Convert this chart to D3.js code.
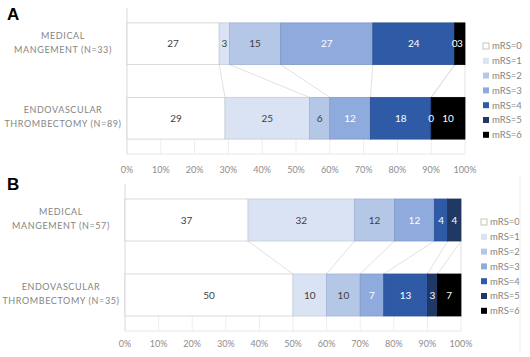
<!DOCTYPE html>
<html><head><meta charset="utf-8">
<script src="https://cdn.jsdelivr.net/npm/d3@7"></script>
<style>
body{margin:0;background:#fff;}
svg{display:block;font-family:Lato,"Open Sans",sans-serif;}
</style></head>
<body><svg id="chart" width="530" height="357"></svg>
<script>
// ---- data ----
const seriesNames = ["mRS=0","mRS=1","mRS=2","mRS=3","mRS=4","mRS=5","mRS=6"];
const seriesColors = ["#ffffff","#dae3f3","#b4c7e7","#8faadc","#2f5aa6","#203864","#000000"];
const labelColors = ["#404040","#404040","#404040","#ffffff","#ffffff","#ffffff","#ffffff"];
const categoriesA = [["MEDICAL","MANGEMENT (N=33)"],["ENDOVASCULAR","THROMBECTOMY (N=89)"]];
const categoriesB = [["MEDICAL","MANGEMENT (N=57)"],["ENDOVASCULAR","THROMBECTOMY (N=35)"]];
const valuesA_medical = [27,3,15,27,24,0,3];
const valuesA_evt = [29,25,6,12,18,0,10];
const valuesB_medical = [37,32,12,12,4,4,0];
const valuesB_evt = [50,10,10,7,13,3,7];
const tickValues = [0,0.1,0.2,0.3,0.4,0.5,0.6,0.7,0.8,0.9,1];
const tickLabels = ["0%","10%","20%","30%","40%","50%","60%","70%","80%","90%","100%"];

const svg = d3.select("#chart");

function drawPanel(opt){
  const g = svg.append("g");
  const rows = [opt.top, opt.bottom];
  const table = rows.map((vals,i)=>{
    const o = {cat:i};
    seriesNames.forEach((s,j)=>o[s]=vals[j]);
    return o;
  });
  const stack = d3.stack().keys(seriesNames).offset(d3.stackOffsetExpand)(table);
  const x = d3.scaleLinear().domain([0,1]).range(opt.xr);
  const y = d3.scaleBand().domain([0,1]).range(opt.yr).paddingInner(0.44).paddingOuter(0.2);

  // panel letter
  g.append("text").attr("x",opt.letterX).attr("y",opt.letterY)
    .attr("font-family","Liberation Sans, Arial, sans-serif")
    .attr("font-weight","bold").attr("font-size",17).attr("fill","#000").text(opt.letter);

  const bw = y.bandwidth();
  // faint grid ticks below bottom bar
  g.selectAll(".grid").data(tickValues.slice(1)).join("line")
    .attr("x1",d=>x(d)).attr("x2",d=>x(d))
    .attr("y1",y(1)+bw).attr("y2",opt.yr[1])
    .attr("stroke","#eeeeee").attr("stroke-width",1);

  // axis lines
  g.append("line").attr("x1",opt.xr[0]).attr("x2",opt.xr[0]).attr("y1",opt.yr[0]).attr("y2",opt.yr[1])
    .attr("stroke","#d9d9d9");
  g.append("line").attr("x1",opt.xr[0]).attr("x2",opt.xr[1]).attr("y1",opt.yr[1]).attr("y2",opt.yr[1])
    .attr("stroke","#e6e6e6");

  // series lines
  stack.forEach((layer,j)=>{
    const x0 = x(layer[0][1]), x1 = x(layer[1][1]);
    g.append("line").attr("x1",x0).attr("y1",y(0)+bw).attr("x2",x1).attr("y2",y(1))
      .attr("stroke","#d9d9d9").attr("stroke-width",0.8);
  });

  // bars
  stack.forEach((layer,j)=>{
    g.selectAll(null).data(layer).join("rect")
      .attr("x",d=>x(d[0])).attr("width",d=>Math.max(0,x(d[1])-x(d[0])))
      .attr("y",d=>y(d.data.cat)).attr("height",bw)
      .attr("fill",seriesColors[j])
      .attr("stroke", j===0 ? "#d0d0d0" : d3.color(seriesColors[j]).darker(0.3))
      .attr("stroke-width",0.8);
  });
  // labels
  stack.forEach((layer,j)=>{
    layer.forEach((d,i)=>{
      const v = rows[i][j];
      if(v===0 && !opt.showZeros) return;
      g.append("text").attr("x",x((d[0]+d[1])/2)).attr("y",y(i)+bw/2+3.5)
        .attr("text-anchor","middle").attr("font-size",10).attr("fill",labelColors[j]).text(v);
    });
  });

  // category labels
  opt.cats.forEach((lines,i)=>{
    const t = g.append("text").attr("text-anchor","middle").attr("font-size",9)
      .attr("letter-spacing",0.6).attr("fill","#858585");
    lines.forEach((ln,k)=>{
      t.append("tspan").attr("x",opt.catX).attr("y",y(i)+bw/2-5+k*14).text(ln);
    });
  });

  // x tick labels
  g.selectAll(".tl").data(tickValues).join("text")
    .attr("x",d=>x(d)).attr("y",opt.tickY).attr("text-anchor","middle")
    .attr("font-size",9).attr("fill","#8c8c8c").text((d,i)=>tickLabels[i]);

  // legend
  const lg = g.append("g").attr("transform",`translate(${opt.legX},${opt.legY})`);
  seriesNames.forEach((s,j)=>{
    lg.append("rect").attr("x",0).attr("y",j*14.8-3).attr("width",6).attr("height",6)
      .attr("fill",seriesColors[j]).attr("stroke",j===0?"#aaaaaa":"none").attr("stroke-width",0.7);
    lg.append("text").attr("x",9).attr("y",j*14.8+3.3).attr("font-size",9.5)
      .attr("fill","#858585").text(s);
  });
}

drawPanel({letter:"A",letterX:7,letterY:20,top:valuesA_medical,bottom:valuesA_evt,cats:categoriesA,
  xr:[127,465],yr:[8,154],tickY:173,catX:63,legX:483,legY:46,showZeros:true});
drawPanel({letter:"B",letterX:7,letterY:190,top:valuesB_medical,bottom:valuesB_evt,cats:categoriesB,
  xr:[125,461],yr:[184,331],tickY:347,catX:61,legX:481,legY:222,showZeros:false});
// faint border of panel B chart area
svg.append("line").attr("x1",520).attr("x2",520).attr("y1",176).attr("y2",352).attr("stroke","#f0f0f0");
</script></body></html>
